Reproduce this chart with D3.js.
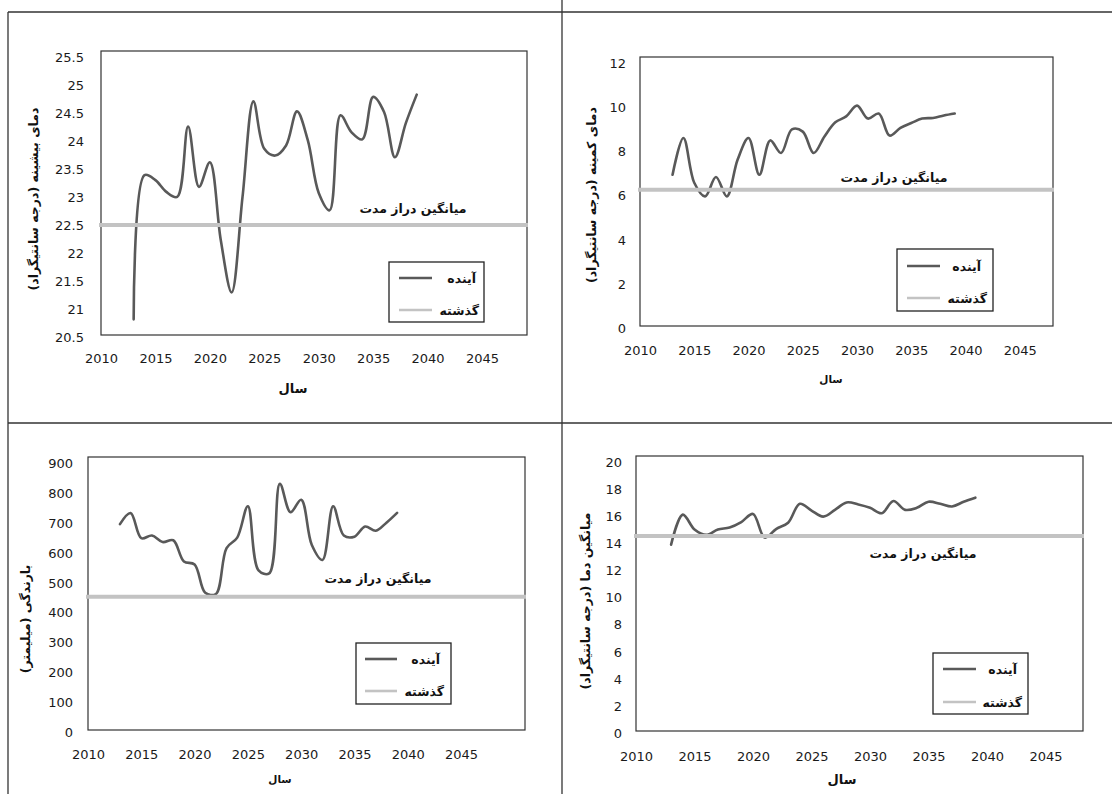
<!DOCTYPE html>
<html><head><meta charset="utf-8">
<script src="https://cdn.jsdelivr.net/npm/d3@7"></script>
<style>body{margin:0;background:#fff} svg{display:block}</style>
</head><body>
<svg id="c" width="1112" height="794"></svg>
<script>
// ---------------- data ----------------
const years = [2013,2014,2015,2016,2017,2018,2019,2020,2021,2022,2023,2024,2025,2026,2027,2028,2029,2030,2031,2032,2033,2034,2035,2036,2037,2038,2039];
const maxTemp = [20.78,23.36,23.27,23.06,22.97,24.23,23.15,23.59,22.2,21.26,22.97,24.68,23.83,23.71,23.89,24.5,23.98,23.04,22.73,24.43,24.13,24.0,24.76,24.49,23.68,24.29,24.8];
const minTemp = [6.86,8.53,6.5,5.88,6.76,5.88,7.55,8.53,6.86,8.42,7.85,8.92,8.82,7.85,8.6,9.24,9.51,10.0,9.41,9.64,8.64,8.99,9.21,9.41,9.44,9.55,9.64];
const rainfall = [690,727,643,652,630,636,565,555,460,456,610,645,750,535,525,825,730,772,620,570,750,652,648,682,668,695,728];
const meanTemp = [13.78,16.0,14.9,14.5,14.9,15.05,15.45,16.05,14.3,14.95,15.4,16.8,16.3,15.85,16.35,16.9,16.75,16.5,16.1,17.0,16.35,16.5,16.95,16.8,16.6,16.95,17.25];
const longTermMaxTemp = 22.47;
const longTermMinTemp = 6.18;
const longTermRainfall = 447;
const longTermMeanTemp = 14.42;
const xTickYears = [2010,2015,2020,2025,2030,2035,2040,2045];
const yTicksMax = [20.5,21,21.5,22,22.5,23,23.5,24,24.5,25,25.5];
const yTicksMin = [0,2,4,6,8,10,12];
const yTicksRain = [0,100,200,300,400,500,600,700,800,900];
const yTicksMean = [0,2,4,6,8,10,12,14,16,18,20];
const yTitles = ["دمای بیشینه (درجه سانتیگراد)","دمای کمینه (درجه سانتیگراد)","بارندگی (میلیمتر)","میانگین دما (درجه سانتیگراد)"];
const xTitle = "سال";
const meanLabel = "میانگین دراز مدت";
const legendLabels = ["آینده","گذشته"];

// ---------------- layout ----------------
const panels = [
  {values:maxTemp, mean:longTermMaxTemp, yTicks:yTicksMax, yDom:[20.5,25.5], title:yTitles[0],
   box:{x0:101,x1:527,y0:51,y1:335}, xMax:2049.13, ylabRight:84, xlabY:363, titleX:33, titleY:199,
   xTitlePos:[293,388], xTitleSize:13, meanPos:[413,208], legend:{x0:389,x1:484,y0:262,y1:322,lx0:399,lx1:432,ly:[278,310],tx:[476,479]}},
  {values:minTemp, mean:longTermMinTemp, yTicks:yTicksMin, yDom:[0,12], title:yTitles[1],
   box:{x0:640,x1:1053,y0:57,y1:326}, xMax:2048.06, ylabRight:626, xlabY:355, titleX:591, titleY:195,
   xTitlePos:[831,379], xTitleSize:10.5, meanPos:[894,177], legend:{x0:897,x1:993,y0:249,y1:311,lx0:907,lx1:940,ly:[266,298],tx:[981,987]}},
  {values:rainfall, mean:longTermRainfall, yTicks:yTicksRain, yDom:[0,900], title:yTitles[2],
   box:{x0:88,x1:525,y0:457,y1:730}, xMax:2051.0, ylabRight:73, xlabY:759, titleX:25, titleY:619,
   xTitlePos:[280,779], xTitleSize:10.5, meanPos:[378,578], legend:{x0:356,x1:451,y0:643,y1:704,lx0:365,lx1:397,ly:[659,691],tx:[440,444]}},
  {values:meanTemp, mean:longTermMeanTemp, yTicks:yTicksMean, yDom:[0,20], title:yTitles[3],
   box:{x0:636,x1:1083,y0:456,y1:731}, xMax:2048.2, ylabRight:622, xlabY:761, titleX:585, titleY:601,
   xTitlePos:[842,779], xTitleSize:13, meanPos:[923,553], legend:{x0:933,x1:1028,y0:653,y1:714,lx0:943,lx1:976,ly:[669,702],tx:[1017,1022]}}
];

const svg = d3.select("#c");
const numFont = "'DejaVu Sans', sans-serif";
const faFont = "'DejaVu Sans', sans-serif";
const dark = "#595959", light = "#c3c3c3";

// outer frame & dividers
const frame = svg.append("g").attr("stroke","#333").attr("stroke-width",1.3);
frame.append("line").attr("x1",8).attr("x2",1112).attr("y1",12).attr("y2",12);
frame.append("line").attr("x1",8).attr("x2",8).attr("y1",12).attr("y2",794);
frame.append("line").attr("x1",562).attr("x2",562).attr("y1",0).attr("y2",794);
frame.append("line").attr("x1",8).attr("x2",1112).attr("y1",423).attr("y2",423);

panels.forEach(p => {
  const b = p.box;
  const g = svg.append("g");
  const x = d3.scaleLinear().domain([2010, p.xMax]).range([b.x0, b.x1]);
  const y = d3.scaleLinear().domain(p.yDom).range([b.y1, b.y0 + 4.5]);

  g.append("rect").attr("x",b.x0).attr("y",b.y0).attr("width",b.x1-b.x0).attr("height",b.y1-b.y0)
    .attr("fill","none").attr("stroke","#333").attr("stroke-width",1.2);

  // y axis labels
  const ya = g.append("g").attr("transform",`translate(${p.ylabRight},2)`)
    .call(d3.axisLeft(y).tickValues(p.yTicks).tickSize(0).tickPadding(0).tickFormat(d => String(d)));
  ya.select(".domain").remove();
  ya.selectAll("text").attr("font-family",numFont).attr("font-size",13).attr("fill","#1a1a1a");

  // x axis labels
  const xa = g.append("g").attr("transform",`translate(0,${p.xlabY - 4.5})`)
    .call(d3.axisBottom(x).tickValues(xTickYears).tickSize(0).tickPadding(0).tickFormat(d3.format("d")));
  xa.select(".domain").remove();
  xa.selectAll("text").attr("font-family",numFont).attr("font-size",13).attr("fill","#1a1a1a").attr("dy","0.35em");

  // series
  const line = d3.line().x((d,i)=>x(years[i])).y(d=>y(d)).curve(d3.curveCatmullRom.alpha(0.5));
  g.append("path").datum(p.values).attr("d",line).attr("fill","none")
    .attr("stroke",dark).attr("stroke-width",2.6).attr("stroke-linejoin","round").attr("stroke-linecap","round");

  // long-term mean
  g.append("line").attr("x1",b.x0-2).attr("x2",b.x1+1).attr("y1",y(p.mean)).attr("y2",y(p.mean))
    .attr("stroke",light).attr("stroke-width",4);

  // titles
  g.append("text").attr("transform",`translate(${p.titleX},${p.titleY}) rotate(-90)`)
    .attr("text-anchor","middle").attr("dominant-baseline","central").attr("direction","rtl")
    .attr("font-family",faFont).attr("font-weight","bold").attr("font-size",12.5).attr("fill","#111").text(p.title);
  g.append("text").attr("x",p.xTitlePos[0]).attr("y",p.xTitlePos[1]).attr("text-anchor","middle")
    .attr("dominant-baseline","central").attr("font-family",faFont).attr("font-weight","bold")
    .attr("font-size",p.xTitleSize).attr("fill","#111").text(xTitle);
  g.append("text").attr("x",p.meanPos[0]).attr("y",p.meanPos[1]).attr("text-anchor","middle")
    .attr("dominant-baseline","central").attr("direction","rtl").attr("font-family",faFont).attr("font-weight","bold")
    .attr("font-size",12.5).attr("fill","#111").text(meanLabel);

  // legend
  const L = p.legend;
  g.append("rect").attr("x",L.x0).attr("y",L.y0).attr("width",L.x1-L.x0).attr("height",L.y1-L.y0)
    .attr("fill","#fff").attr("stroke","#222").attr("stroke-width",1.3);
  [dark, light].forEach((c,i) => {
    g.append("line").attr("x1",L.lx0).attr("x2",L.lx1).attr("y1",L.ly[i]).attr("y2",L.ly[i])
      .attr("stroke",c).attr("stroke-width",2.6);
    g.append("text").attr("x",L.tx[i]).attr("y",L.ly[i]).attr("text-anchor","end")
      .attr("dominant-baseline","central").attr("font-family",faFont).attr("font-weight","bold")
      .attr("font-size",12.5).attr("fill","#111").text(legendLabels[i]);
  });
});
</script>
</body></html>
